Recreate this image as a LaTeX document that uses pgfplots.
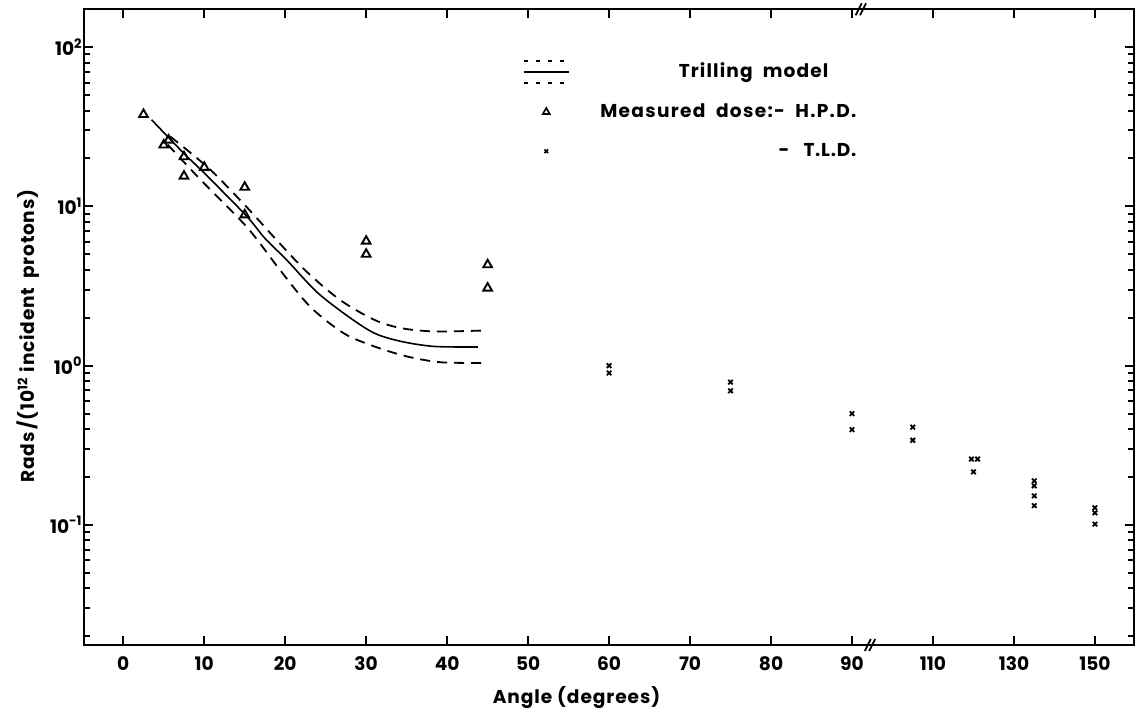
\documentclass[border=0pt]{standalone}
\usepackage{fontspec}
\setmainfont{Poppins}
\usepackage{pgfplots}
\pgfplotsset{compat=1.18}
\begin{document}
\fontsize{9.3}{11}\selectfont\bfseries
\begin{tikzpicture}
\begin{axis}[
  name=ax, at={(0,0)}, anchor=south west,
  scale only axis, width=525pt, height=317.9pt,
  ymode=log, ymin=0.0176, ymax=173,
  xmin=-4.85, xmax=124.8,
  clip=false,
  xtick={0,10,20,30,40,50,60,70,80,90,100,110,120},
  xticklabels={0,10,20,30,40,50,60,70,80,90,110,130,150},
  ytick={0.1,1,10,100},
  yticklabels={10\textsuperscript{-1},10\textsuperscript{0},10\textsuperscript{1},10\textsuperscript{2}},
  minor ytick={0.02,0.03,0.04,0.05,0.06,0.07,0.08,0.09,0.2,0.3,0.4,0.5,0.6,0.7,0.8,0.9,2,3,4,5,6,7,8,9,20,30,40,50,60,70,80,90},
  tick align=inside,
  major tick length=4.5pt, minor tick length=3pt,
  every tick/.style={black, line width=1pt},
  axis line style={line width=1.2pt},
  xticklabel style={yshift=-2.7pt},
  yticklabel style={inner xsep=0.5pt},
  xlabel={\addfontfeature{LetterSpace=5}Angle (degrees)},
  ylabel={\addfontfeature{LetterSpace=4}Rads\,/(10\textsuperscript{12} incident\ \ protons)},
  xlabel style={at={(axis description cs:0.4692,0)}, anchor=base, yshift=-29.5pt},
  ylabel style={at={(axis description cs:-0.0467,0.486)}, anchor=base},
  legend cell align=left,
  legend style={draw=none, fill=none, at={(axis description cs:0.4121,0.9287)}, anchor=north west,
    row sep=7.5pt, /tikz/every odd column/.append style={column sep=11.5pt}},
]
\addlegendimage{legend image code/.code={
  \draw[line width=0.7pt, dash pattern=on 2pt off 4pt] (-2.75pt,5.5pt)--(19.75pt,5.5pt);
  \draw[line width=0.7pt] (-2.75pt,0pt)--(19.75pt,0pt);
  \draw[line width=0.7pt, dash pattern=on 2pt off 4pt] (-2.75pt,-5.5pt)--(19.75pt,-5.5pt);}}
\addlegendentry{\makebox[130pt][r]{\addfontfeature{LetterSpace=6}Trilling\ \ model\hspace{14pt}}}
\addlegendimage{only marks, mark=triangle, mark size=2pt, line width=0.8pt}
\addlegendentry{\makebox[130pt][r]{\addfontfeature{LetterSpace=7}Measured\ \ dose:-\ \ H.P.D.}}
\addlegendimage{only marks, mark=x, mark size=1.3pt, line width=0.8pt}
\addlegendentry{\makebox[130pt][r]{-\hspace{7pt}\addfontfeature{LetterSpace=4}T.L.D.}}

% Trilling model (central and band)
\addplot[smooth, line width=0.8pt, forget plot] coordinates {
 (3.5,35.0) (7.5,21.5) (10,16.2) (15.2,8.73) (17.5,6.3) (20.2,4.6) (23.9,2.9) (27.7,2.05)
 (31,1.60) (34.3,1.42) (38.4,1.32) (43.8,1.31)};
\addplot[smooth, line width=0.9pt, dash pattern=on 5pt off 3.5pt, forget plot] coordinates {
 (5.8,27.5) (10.7,17.1) (15.3,9.83) (19,6.10) (22.7,3.87) (26.8,2.58) (31,1.94)
 (34.3,1.72) (38.4,1.64) (44.2,1.66)};
\addplot[smooth, line width=0.9pt, dash pattern=on 5pt off 3.5pt, forget plot] coordinates {
 (5.5,24.4) (9.5,14.8) (15.3,7.38) (19.4,3.96) (23.1,2.34) (27.2,1.60) (31,1.32)
 (35.1,1.14) (39.2,1.05) (44.2,1.04)};

% Measured dose H.P.D.
\addplot[only marks, mark=triangle, mark size=2.5pt, line width=0.95pt, forget plot] coordinates {
 (2.5,37.8) (5,24.3) (5.6,26.1) (7.5,20.5) (7.5,15.5) (10,17.6) (15,13.2) (15,8.85)
 (30,6.05) (30,5.01) (45,4.30) (45,3.07)};

% Measured dose T.L.D. (x beyond 90 compressed: 105->97.5, 120->105, 135->112.5, 150->120)
\addplot[only marks, mark=x, mark size=1.6pt, line width=0.9pt, forget plot] coordinates {
 (60,1.00) (60,0.898) (75,0.788) (75,0.695) (90,0.499) (90,0.396)
 (97.5,0.411) (97.5,0.340) (104.75,0.259) (105.5,0.259) (105,0.215)
 (112.5,0.189) (112.5,0.176) (112.5,0.152) (112.5,0.132)
 (120,0.128) (120,0.119) (120,0.101)};

% axis break marks
\draw[line width=0.9pt] ([shift={(-2.6pt,-3pt)}]rel axis cs:0.7487,0) -- ([shift={(0.4pt,3pt)}]rel axis cs:0.7487,0);
\draw[line width=0.9pt] ([shift={(-0.4pt,-3pt)}]rel axis cs:0.7487,0) -- ([shift={(2.6pt,3pt)}]rel axis cs:0.7487,0);
\draw[line width=0.9pt] ([shift={(-2.6pt,-3pt)}]rel axis cs:0.740,1) -- ([shift={(0.4pt,3pt)}]rel axis cs:0.740,1);
\draw[line width=0.9pt] ([shift={(-0.4pt,-3pt)}]rel axis cs:0.740,1) -- ([shift={(2.6pt,3pt)}]rel axis cs:0.740,1);
\end{axis}
\path (-42pt,-35pt) rectangle (525.5pt,322.55pt);
\end{tikzpicture}
\end{document}
